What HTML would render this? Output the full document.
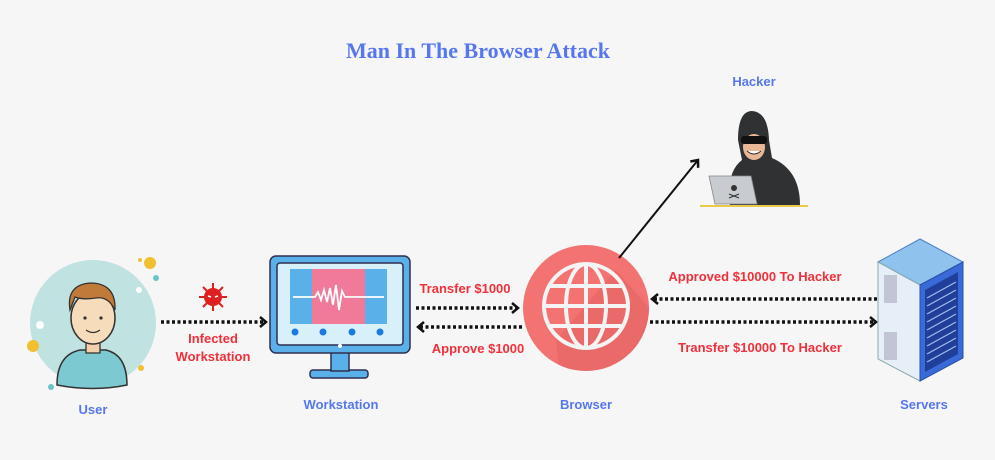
<!DOCTYPE html>
<html><head><meta charset="utf-8"><style>
html,body{margin:0;padding:0;background:#f6f6f6;}
svg{display:block;}
.l{font-family:"Liberation Sans",sans-serif;font-weight:bold;font-size:13px;}
</style></head><body>
<svg width="995" height="460" viewBox="0 0 995 460" xmlns="http://www.w3.org/2000/svg">
<defs>
<marker id="ah" markerWidth="12" markerHeight="14" refX="8" refY="7" orient="auto" markerUnits="userSpaceOnUse">
<path d="M2,2 L8,7 L2,12" fill="none" stroke="#111" stroke-width="2.5"/>
</marker>
<clipPath id="bc"><circle cx="586" cy="308" r="63"/></clipPath>
</defs>
<rect width="995" height="460" fill="#f6f6f6"/>
<text x="478" y="58" text-anchor="middle" font-family="Liberation Serif,serif" font-weight="bold" font-size="22" fill="#5677f0">Man In The Browser Attack</text>

<!-- User -->
<circle cx="93" cy="323" r="63" fill="#c0e2e0"/>
<circle cx="150" cy="263" r="6" fill="#f0c030"/><circle cx="140" cy="260" r="2" fill="#f0c030"/>
<circle cx="33" cy="346" r="6" fill="#f0c030"/><circle cx="141" cy="368" r="3" fill="#f0c030"/>
<circle cx="156" cy="278" r="3" fill="#6cc3c8"/><circle cx="51" cy="387" r="3" fill="#6cc3c8"/>
<circle cx="139" cy="290" r="3" fill="#fff"/><circle cx="40" cy="325" r="4" fill="#fff"/>
<path d="M57,385 Q57,355 80,350 L106,350 Q127,355 127,385 Q93,392 57,385Z" fill="#7dc9d2" stroke="#333" stroke-width="1.5"/>
<rect x="86" y="335" width="14" height="18" fill="#f3d0ac" stroke="#333" stroke-width="1.3"/>
<ellipse cx="93" cy="318" rx="22" ry="26" fill="#f7dcbc" stroke="#333" stroke-width="1.5"/>
<path d="M70,310 Q66,285 90,283 Q116,283 115,310 Q108,296 96,298 Q82,300 75,297Z" fill="#c07a3a" stroke="#333" stroke-width="1.3"/>
<circle cx="85" cy="318" r="1.6" fill="#333"/><circle cx="101" cy="318" r="1.6" fill="#333"/>
<path d="M86,330 Q93,335 100,330" fill="none" stroke="#333" stroke-width="1.3"/>
<text x="93" y="414" text-anchor="middle" class="l" fill="#5677f0">User</text>

<!-- virus -->
<g fill="#e02020"><circle cx="213" cy="297" r="9"/>
<g stroke="#e02020" stroke-width="2">
<line x1="213" y1="283" x2="213" y2="311"/><line x1="199" y1="297" x2="227" y2="297"/>
<line x1="203" y1="287" x2="223" y2="307"/><line x1="223" y1="287" x2="203" y2="307"/></g></g>
<path d="M208,296 L211,297 M218,296 L215,297" stroke="#fff" stroke-width="1.5"/>

<line x1="161" y1="322" x2="266" y2="322" stroke="#111" stroke-width="3.5" stroke-dasharray="3,2.5" marker-end="url(#ah)"/>
<text x="213" y="343" text-anchor="middle" class="l" fill="#f0303a">Infected</text>
<text x="213" y="361" text-anchor="middle" class="l" fill="#f0303a">Workstation</text>

<!-- Workstation -->
<rect x="310" y="370" width="58" height="8" rx="3" fill="#5ab0e8" stroke="#2f2f4f" stroke-width="1.5"/>
<rect x="331" y="352" width="18" height="19" fill="#5ab0e8" stroke="#2f2f4f" stroke-width="1.5"/>
<rect x="270" y="256" width="140" height="97" rx="6" fill="#5ab0e8" stroke="#2f2f4f" stroke-width="1.5"/>
<rect x="277" y="263" width="126" height="82" rx="3" fill="#d8f0fa" stroke="#2f2f4f" stroke-width="1.5"/>
<rect x="290" y="269" width="97" height="55" fill="#5ab0e8"/>
<rect x="312" y="269" width="53" height="55" fill="#f27a99"/>
<polyline points="293,297 315,297 318,292 321,300 324,290 327,302 330,288 333,305 336,285 339,310 342,291 345,297 384,297" fill="none" stroke="#fff" stroke-width="1.8"/>
<g fill="#1a7ae0"><circle cx="295" cy="332" r="3.5"/><circle cx="323" cy="332" r="3.5"/><circle cx="352" cy="332" r="3.5"/><circle cx="380" cy="332" r="3.5"/></g>
<circle cx="340" cy="346" r="2" fill="#fff"/>
<text x="341" y="409" text-anchor="middle" class="l" fill="#5677f0">Workstation</text>

<text x="465" y="293" text-anchor="middle" class="l" fill="#f0303a">Transfer $1000</text>
<line x1="416" y1="308" x2="518" y2="308" stroke="#111" stroke-width="3.5" stroke-dasharray="3,2.5" marker-end="url(#ah)"/>
<line x1="522" y1="327" x2="418" y2="327" stroke="#111" stroke-width="3.5" stroke-dasharray="3,2.5" marker-end="url(#ah)"/>
<text x="478" y="353" text-anchor="middle" class="l" fill="#f0303a">Approve $1000</text>

<!-- Browser -->
<circle cx="586" cy="308" r="63" fill="#f37272"/>
<path d="M616,270 L660,320 L640,380 L560,380 L556,340Z" fill="#e46464" opacity="0.6" clip-path="url(#bc)"/>
<g fill="none" stroke="#f4f4f4" stroke-width="4">
<circle cx="586" cy="306" r="42"/>
<ellipse cx="586" cy="306" rx="20" ry="42"/>
<line x1="586" y1="264" x2="586" y2="348"/>
<line x1="544" y1="306" x2="628" y2="306"/>
<line x1="550" y1="286" x2="622" y2="286"/>
<line x1="550" y1="326" x2="622" y2="326"/>
</g>
<text x="586" y="409" text-anchor="middle" class="l" fill="#5677f0">Browser</text>

<line x1="619" y1="258" x2="698" y2="160" stroke="#111" stroke-width="2" marker-end="url(#ah)"/>

<!-- Hacker -->
<text x="754" y="86" text-anchor="middle" class="l" fill="#5677f0">Hacker</text>
<path d="M730,205 Q726,172 742,160 L738,140 Q738,111 752,111 Q768,112 769,140 L772,158 Q800,170 800,205Z" fill="#2f3133"/>
<ellipse cx="754" cy="147" rx="11" ry="13" fill="#e8b896"/>
<rect x="741" y="136" width="26" height="8" rx="3" fill="#111"/>
<path d="M747,151 Q754,157 761,151" fill="#fff" stroke="#333" stroke-width="1"/>
<path d="M709,176 L751,176 L757,204 L715,204Z" fill="#c8ccd0" stroke="#888" stroke-width="0.8"/>
<circle cx="734" cy="188" r="3" fill="#333"/><path d="M729,194 L739,198 M739,194 L729,198" stroke="#333" stroke-width="1.2"/>
<line x1="700" y1="206" x2="808" y2="206" stroke="#e8c94a" stroke-width="2"/>

<text x="755" y="281" text-anchor="middle" class="l" fill="#f0303a">Approved $10000 To Hacker</text>
<line x1="877" y1="299" x2="652" y2="299" stroke="#111" stroke-width="3.5" stroke-dasharray="3,2.5" marker-end="url(#ah)"/>
<line x1="650" y1="322" x2="876" y2="322" stroke="#111" stroke-width="3.5" stroke-dasharray="3,2.5" marker-end="url(#ah)"/>
<text x="760" y="352" text-anchor="middle" class="l" fill="#f0303a">Transfer $10000 To Hacker</text>

<!-- Server -->
<path d="M878,262 L920,239 L963,262 L920,285Z" fill="#8fc3ee" stroke="#4a7fc8" stroke-width="1"/>
<path d="M878,262 L920,285 L920,381 L878,359Z" fill="#e6eef8" stroke="#8aa" stroke-width="1"/>
<path d="M920,285 L963,262 L963,358 L920,381Z" fill="#3a6ad8" stroke="#2a4fa8" stroke-width="1"/>
<path d="M925,290 L958,272 L958,354 L925,372Z" fill="#1f3f9a"/>
<g stroke="#9ec0f0" stroke-width="1.2">
<line x1="927" y1="298" x2="956" y2="282"/><line x1="927" y1="306" x2="956" y2="290"/><line x1="927" y1="314" x2="956" y2="298"/><line x1="927" y1="322" x2="956" y2="306"/><line x1="927" y1="330" x2="956" y2="314"/><line x1="927" y1="338" x2="956" y2="322"/><line x1="927" y1="346" x2="956" y2="330"/><line x1="927" y1="354" x2="956" y2="338"/><line x1="927" y1="362" x2="956" y2="346"/></g>
<rect x="884" y="275" width="13" height="28" fill="#aab" opacity="0.6"/>
<rect x="884" y="332" width="13" height="28" fill="#aab" opacity="0.6"/>
<text x="924" y="409" text-anchor="middle" class="l" fill="#5677f0">Servers</text>
</svg>
</body></html>
